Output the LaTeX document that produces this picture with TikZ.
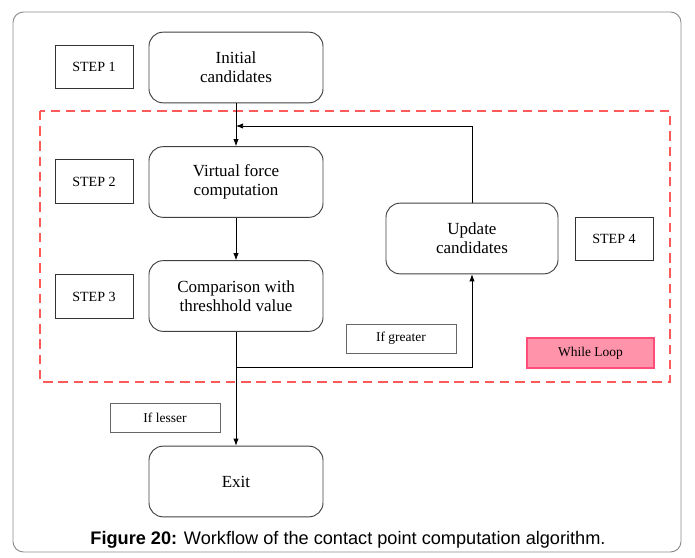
\documentclass[tikz,border=0pt]{standalone}
\usepackage{fontspec}
\setmainfont{Liberation Serif}
\newfontfamily\capfont{Liberation Sans}
\usetikzlibrary{positioning,arrows.meta}
\definecolor{looppink}{HTML}{FF93AA}
\definecolor{loopedge}{HTML}{FF4D7A}
\definecolor{dashred}{HTML}{FF5A5A}

\begin{document}
\begin{tikzpicture}[x=0.03cm, y=-0.03cm, line width=0.8pt,
    procbox/.style={draw=black!75, rounded corners=12pt, minimum width=5.22cm,
      minimum height=2.12cm, align=center, font=\fontsize{14.5}{16}\selectfont},
    steplbl/.style={draw=black!80, minimum width=2.34cm, minimum height=1.3cm,
      font=\fontsize{12}{14}\selectfont},
    condlbl/.style={draw=black!60, minimum width=3.3cm, minimum height=0.87cm,
      font=\fontsize{11.5}{13}\selectfont},
    flow/.style={-{Latex[length=6pt,width=4.5pt]}, black, line width=0.65pt}]
    % frame and margins
    \useasboundingbox (0,0) rectangle (695,558);
    \draw[black!45, rounded corners=9pt] (13,12) rectangle (681,552);
    % while loop region
    \draw[dashred, line width=1pt, dash pattern=on 8pt off 5pt] (40,111) rectangle (670,382);
    % process boxes
    \node[procbox] (init) at (236,67.5) {Initial\\candidates};
    \node[procbox] (force) at (236,182) {Virtual force\\computation};
    \node[procbox] (cmp) at (236,296) {Comparison with\\threshhold value};
    \node[procbox, minimum width=5.16cm] (upd) at (472,238.5) {Update\\candidates};
    \node[procbox] (exitn) at (236,481.5) {Exit};
    % step labels
    \node[steplbl] (s1) at (94,67) {STEP 1};
    \node[steplbl] (s2) at (94,181.5) {STEP 2};
    \node[steplbl] (s3) at (94,296.5) {STEP 3};
    \node[steplbl] (s4) at (614,239) {STEP 4};
    % conditions
    \node[condlbl] (greater) at (401,338.5) {If greater};
    \node[condlbl] (lesser) at (165,417.5) {If lesser};
    \node[draw=loopedge, fill=looppink, line width=1.2pt, minimum width=3.81cm,
      minimum height=0.9cm, font=\fontsize{11.5}{13}\selectfont] (loop) at (590.5,353) {While Loop};
    % connectors
    \coordinate (join) at (236,367);
    \coordinate (back) at (236,126);
    \draw[flow] (init) -- (force);
    \draw[flow] (force) -- (cmp);
    \draw[flow] (cmp) -- (exitn);
    \draw[flow] (join) -| (upd);
    \draw[flow] (upd) |- (back);
    % caption
    \node[font=\capfont\fontsize{15.5}{18}\selectfont] (cap) at (348,540)
      {\textbf{Figure 20:} Workflow of the contact point computation algorithm.};
\end{tikzpicture}
\end{document}
